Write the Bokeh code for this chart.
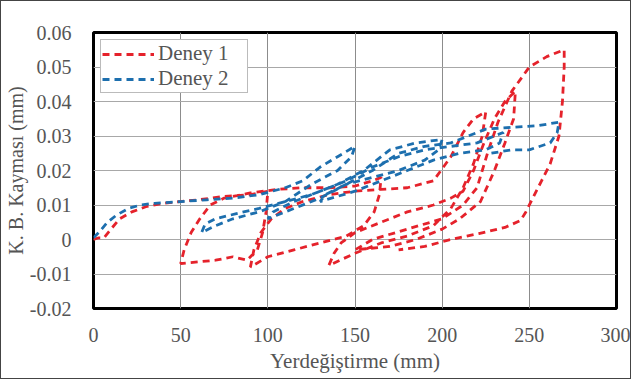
from bokeh.plotting import figure
from bokeh.models import Range1d, FixedTicker, Legend, LegendItem
from bokeh.embed import file_html
from bokeh.resources import INLINE

# Deney 1: cyclic load path (displacement mm, slip mm)
d1_x = [0, 3, 6, 10, 15, 22, 30, 40, 50, 60, 75, 90, 100,
        99, 97, 94, 88, 80, 70, 60, 50,
        52, 56, 61, 67, 75, 90, 105, 120, 135, 150, 160, 165,
        164, 161, 155, 145, 130, 115, 100, 90,
        92, 96, 102, 110, 120, 135, 150, 165, 180, 195, 205, 212, 218, 225,
        223, 218, 212, 205, 195, 180, 165, 150, 135,
        138, 142, 150, 165, 180, 195, 205, 212, 218, 224, 230, 236, 242,
        241, 236, 230, 222, 210, 200, 185, 170, 150,
        160, 180, 200, 212, 220, 226, 232, 240, 250, 260, 270,
        270, 269, 267, 262, 257, 252, 248, 245, 236, 221, 205, 190, 175]
d1_y = [0.0, 0.0005, 0.0005, 0.003, 0.006, 0.008, 0.0095, 0.0105, 0.011, 0.0115, 0.0125, 0.013, 0.014,
        0.008, 0.002, -0.003, -0.006, -0.005, -0.006, -0.0065, -0.007,
        -0.003, 0.002, 0.006, 0.010, 0.012, 0.0135, 0.0145, 0.015, 0.015, 0.0155, 0.017, 0.018,
        0.013, 0.008, 0.004, 0.001, -0.001, -0.003, -0.005, -0.008,
        -0.003, 0.002, 0.006, 0.009, 0.011, 0.013, 0.014, 0.0145, 0.015, 0.017, 0.024, 0.031, 0.035, 0.037,
        0.030, 0.022, 0.015, 0.009, 0.004, 0.001, -0.001, -0.004, -0.0075,
        -0.004, -0.001, 0.002, 0.005, 0.008, 0.010, 0.012, 0.014, 0.020, 0.028, 0.035, 0.040, 0.043,
        0.035, 0.028, 0.020, 0.011, 0.006, 0.003, 0.0, -0.002, -0.003,
        0.0, 0.003, 0.006, 0.010, 0.015, 0.025, 0.034, 0.043, 0.050, 0.053, 0.055,
        0.050, 0.040, 0.030, 0.022, 0.017, 0.012, 0.008, 0.0055, 0.0035, 0.0017, 0.0, -0.002, -0.003]

# Deney 2
d2_x = [0, 3, 8, 13, 20, 27, 35, 50, 65, 80, 95, 110, 120, 130, 140, 150,
        148, 140, 125, 110, 95, 80, 70, 62,
        64, 70, 82, 95, 110, 125, 140, 155, 170, 185, 200,
        198, 190, 175, 160, 145, 130, 115, 100,
        103, 115, 130, 145, 160, 175, 190, 205, 220, 235,
        233, 225, 210, 195, 180, 165, 150, 130,
        133, 145, 160, 175, 190, 205, 215, 225, 240, 255, 267,
        266, 262, 250, 240, 228]
d2_y = [0.0005, 0.002, 0.005, 0.007, 0.009, 0.010, 0.0105, 0.011, 0.0115, 0.012, 0.013, 0.015, 0.017, 0.021, 0.024, 0.027,
        0.024, 0.020, 0.016, 0.011, 0.008, 0.006, 0.004, 0.002,
        0.0045, 0.006, 0.0075, 0.009, 0.011, 0.013, 0.016, 0.020, 0.026, 0.028, 0.029,
        0.026, 0.023, 0.020, 0.018, 0.016, 0.012, 0.009, 0.006,
        0.008, 0.011, 0.014, 0.017, 0.021, 0.024, 0.026, 0.027, 0.028, 0.031,
        0.028, 0.026, 0.025, 0.023, 0.020, 0.017, 0.014, 0.011,
        0.013, 0.016, 0.020, 0.025, 0.027, 0.028, 0.030, 0.032, 0.0325, 0.033, 0.034,
        0.031, 0.028, 0.026, 0.026, 0.025]

x_ticks = [0, 50, 100, 150, 200, 250, 300]
y_ticks = [-0.02, -0.01, 0.0, 0.01, 0.02, 0.03, 0.04, 0.05, 0.06]
y_tick_labels = ["-0.02", "-0.01", "0", "0.01", "0.02", "0.03", "0.04", "0.05", "0.06"]

SERIF = "Liberation Serif"
TEXT_GRAY = "#555555"

p = figure(width=631, height=379, output_backend="svg", toolbar_location=None,
           x_range=Range1d(0, 300), y_range=Range1d(-0.02, 0.06),
           min_border_left=92, min_border_right=16, min_border_top=31, min_border_bottom=72)
p.styles = {"border": "1px solid #444444"}

p.outline_line_color = "black"
p.outline_line_width = 3

p.xgrid.ticker = FixedTicker(ticks=x_ticks)
p.ygrid.ticker = FixedTicker(ticks=y_ticks)
p.xgrid.grid_line_color = "#8c8c8c"
p.ygrid.grid_line_color = "#a8a8a8"
p.xgrid.grid_line_width = 1
p.ygrid.grid_line_width = 1

for ax in (p.xaxis[0], p.yaxis[0]):
    ax.axis_line_color = None
    ax.major_tick_line_color = None
    ax.minor_tick_line_color = None
    ax.major_label_text_font = SERIF
    ax.major_label_text_font_size = "20px"
    ax.major_label_text_color = TEXT_GRAY
    ax.axis_label_text_font = SERIF
    ax.axis_label_text_font_style = "normal"
    ax.axis_label_text_color = TEXT_GRAY

p.xaxis.ticker = FixedTicker(ticks=x_ticks)
p.yaxis.ticker = FixedTicker(ticks=y_ticks)
p.yaxis.major_label_overrides = {t: s for t, s in zip(y_ticks, y_tick_labels)}
p.xaxis.major_label_standoff = 13
p.yaxis.major_label_standoff = 16
p.xaxis.axis_label = "Yerdeğiştirme (mm)"
p.yaxis.axis_label = "K. B. Kayması (mm)"
p.xaxis.axis_label_text_font_size = "21px"
p.yaxis.axis_label_text_font_size = "20px"
p.xaxis.axis_label_standoff = 4
p.yaxis.axis_label_standoff = 0

r1 = p.line(d1_x, d1_y, line_color="#e5222b", line_width=2.8, line_dash="7 5")
r2 = p.line(d2_x, d2_y, line_color="#1d6fae", line_width=2.8, line_dash="7 5")

legend = Legend(items=[LegendItem(label="Deney 1", renderers=[r1]),
                       LegendItem(label="Deney 2", renderers=[r2])],
                location="top_left")
legend.label_text_font = SERIF
legend.label_text_font_size = "21px"
legend.label_text_color = TEXT_GRAY
legend.glyph_width = 52
legend.glyph_height = 18
legend.label_height = 18
legend.label_width = 88
legend.label_standoff = 4
legend.spacing = 0
legend.padding = 1
legend.margin = 7
legend.border_line_color = "#777777"
legend.border_line_width = 1
legend.background_fill_alpha = 1.0
p.add_layout(legend)

open("out.html", "w").write(file_html(p, INLINE))
